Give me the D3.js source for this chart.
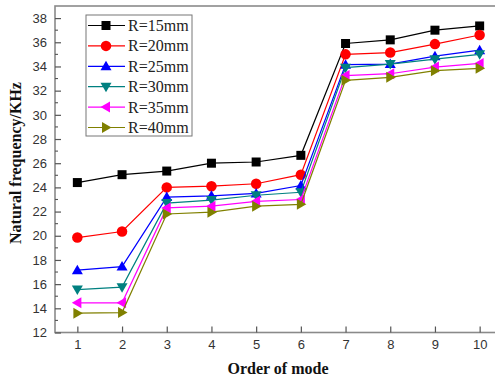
<!DOCTYPE html>
<html>
<head>
<meta charset="utf-8">
<script src="https://cdn.jsdelivr.net/npm/d3@7"></script>
<style>
  html, body { margin: 0; padding: 0; background: #fff; }
  svg { display: block; }
</style>
</head>
<body>
<svg id="chart" width="495" height="378"></svg>
<script>
// Mode orders on the x axis
const modes = [1, 2, 3, 4, 5, 6, 7, 8, 9, 10];
// Series names (radius)
const seriesNames = ["R=15mm", "R=20mm", "R=25mm", "R=30mm", "R=35mm", "R=40mm"];
// Natural frequency (kHz) per mode for each radius
const r15 = [24.4, 25.05, 25.35, 26.0, 26.1, 26.65, 35.9, 36.2, 37.0, 37.35];
const r20 = [19.85, 20.35, 24.0, 24.1, 24.3, 25.05, 35.0, 35.15, 35.85, 36.6];
const r25 = [17.15, 17.45, 23.2, 23.3, 23.5, 24.15, 34.15, 34.2, 34.85, 35.35];
const r30 = [15.55, 15.75, 22.7, 22.95, 23.35, 23.6, 33.9, 34.2, 34.6, 35.0];
const r35 = [14.45, 14.45, 22.3, 22.45, 22.85, 23.0, 33.25, 33.4, 33.95, 34.25];
const r40 = [13.6, 13.65, 21.8, 21.95, 22.45, 22.6, 32.85, 33.1, 33.65, 33.85];
const seriesValues = [r15, r20, r25, r30, r35, r40];
const colors = ["#000000", "#ff0000", "#0000ff", "#008080", "#ff00ff", "#808000"];
const markers = ["square", "circle", "up", "down", "left", "right"];
// Axis tick values
const yTicks = [12, 14, 16, 18, 20, 22, 24, 26, 28, 30, 32, 34, 36, 38];
const yMinorTicks = [13, 15, 17, 19, 21, 23, 25, 27, 29, 31, 33, 35, 37];

const svg = d3.select("#chart");
const plot = { left: 55, top: 6, right: 502, bottom: 332.5 };

const x = d3.scaleLinear().domain([0.5, 10.5]).range([plot.left, plot.right]);
const y = d3.scaleLinear().domain([12, 39]).range([plot.bottom, plot.top]);

// Marker path generator
function markerPath(kind, s) {
  const h = s / 2;
  switch (kind) {
    case "square": return `M${-h},${-h}H${h}V${h}H${-h}Z`;
    case "circle": return d3.symbol(d3.symbolCircle, Math.PI * h * h)();
    case "up": return `M0,${-h * 1.1}L${h * 1.1},${h * 0.8}L${-h * 1.1},${h * 0.8}Z`;
    case "down": return `M0,${h * 1.1}L${h * 1.1},${-h * 0.8}L${-h * 1.1},${-h * 0.8}Z`;
    case "left": return `M${-h * 1.1},0L${h * 0.8},${-h * 1.1}L${h * 0.8},${h * 1.1}Z`;
    case "right": return `M${h * 1.1},0L${-h * 0.8},${-h * 1.1}L${-h * 0.8},${h * 1.1}Z`;
  }
}
const markerSize = { square: 9, circle: 10.5, up: 10, down: 10, left: 10, right: 10 };

// Frame
svg.append("rect")
  .attr("x", plot.left).attr("y", plot.top)
  .attr("width", plot.right - plot.left).attr("height", plot.bottom - plot.top)
  .attr("fill", "none").attr("stroke", "#8a8a8a").attr("stroke-width", 1.6);

// Y axis (ticks point inward)
const yAxis = d3.axisLeft(y).tickValues(yTicks).tickSizeInner(-6).tickSizeOuter(0).tickPadding(8);
const gy = svg.append("g").attr("transform", `translate(${plot.left},0)`).call(yAxis);
gy.select(".domain").remove();
gy.selectAll(".tick line").attr("stroke", "#555").attr("stroke-width", 1.2);
gy.selectAll(".tick text").attr("x", -8)
  .attr("font-family", "Liberation Sans, Arial, sans-serif").attr("font-size", 13).attr("fill", "#333");
svg.append("g").selectAll("line").data(yMinorTicks).join("line")
  .attr("x1", plot.left).attr("x2", plot.left + 3)
  .attr("y1", d => y(d)).attr("y2", d => y(d))
  .attr("stroke", "#555").attr("stroke-width", 1.1);

// X axis (ticks point inward)
const xAxis = d3.axisBottom(x).tickValues(modes).tickSizeInner(-6).tickSizeOuter(0).tickPadding(9);
const gx = svg.append("g").attr("transform", `translate(0,${plot.bottom})`).call(xAxis);
gx.select(".domain").remove();
gx.selectAll(".tick line").attr("stroke", "#555").attr("stroke-width", 1.2);
gx.selectAll(".tick text").attr("y", 7)
  .attr("font-family", "Liberation Sans, Arial, sans-serif").attr("font-size", 13).attr("fill", "#333");

// Axis titles
svg.append("text")
  .attr("x", 278).attr("y", 374)
  .attr("text-anchor", "middle")
  .attr("font-family", "Liberation Serif, Times New Roman, serif")
  .attr("font-weight", "bold").attr("font-size", 16).attr("fill", "#111")
  .text("Order of mode");
svg.append("text")
  .attr("transform", "translate(21,163) rotate(-90)")
  .attr("text-anchor", "middle")
  .attr("font-family", "Liberation Serif, Times New Roman, serif")
  .attr("font-weight", "bold").attr("font-size", 16).attr("fill", "#111")
  .text("Natural frequency/KHz");

// Series lines and markers
const line = d3.line().x((d, i) => x(modes[i])).y(d => y(d));
seriesValues.forEach((vals, si) => {
  const g = svg.append("g");
  g.append("path").datum(vals).attr("d", line)
    .attr("fill", "none").attr("stroke", colors[si]).attr("stroke-width", 1.2);
  g.selectAll("path.m").data(vals).join("path").attr("class", "m")
    .attr("transform", (d, i) => `translate(${x(modes[i])},${y(d)})`)
    .attr("d", markerPath(markers[si], markerSize[markers[si]]))
    .attr("fill", colors[si]);
});

// Legend
const legend = svg.append("g");
legend.append("rect")
  .attr("x", 86).attr("y", 15).attr("width", 106).attr("height", 121)
  .attr("fill", "#fff").attr("stroke", "#777").attr("stroke-width", 1);
seriesNames.forEach((name, i) => {
  const cy = 25.5 + i * 20.4;
  legend.append("line").attr("x1", 88).attr("x2", 125).attr("y1", cy).attr("y2", cy)
    .attr("stroke", colors[i]).attr("stroke-width", 1.2);
  legend.append("path").attr("transform", `translate(106,${cy})`)
    .attr("d", markerPath(markers[i], markerSize[markers[i]]))
    .attr("fill", colors[i]);
  legend.append("text").attr("x", 128).attr("y", cy + 5.5)
    .attr("font-family", "Liberation Serif, Times New Roman, serif")
    .attr("font-size", 16).attr("fill", "#222")
    .text(name);
});
</script>
</body>
</html>
